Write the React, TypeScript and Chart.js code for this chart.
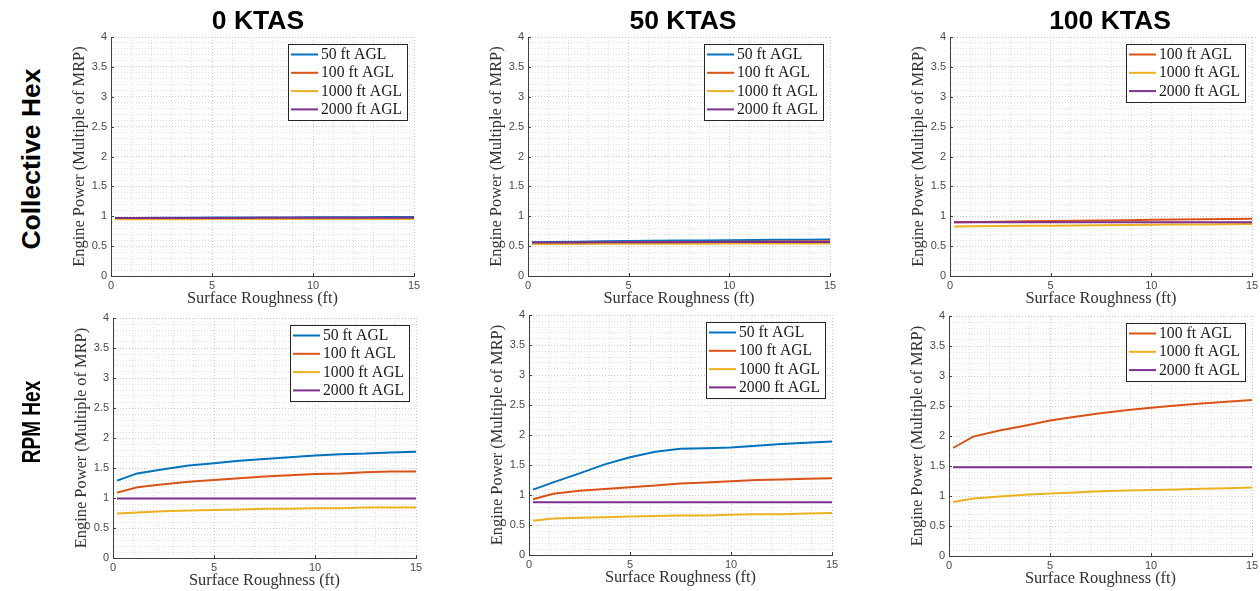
import React, { useEffect, useRef } from "react";
import { Chart, registerables } from "chart.js";
Chart.register(...registerables);

// ---------- data ----------
const roughnessFt = [0.2, 1.2, 2.5, 3.75, 5, 6.25, 7.5, 8.75, 10, 11.25, 12.5, 13.75, 15];
const columnTitles = ["0 KTAS", "50 KTAS", "100 KTAS"];
const rowTitles = ["Collective Hex", "RPM Hex"];
const altitudeLabels = ["50 ft AGL", "100 ft AGL", "1000 ft AGL", "2000 ft AGL"];
const xTitle = "Surface Roughness (ft)";
const yTitle = "Engine Power (Multiple of MRP)";

// Collective Hex, 0 KTAS
const coll0_50 = [0.97, 0.972, 0.974, 0.975, 0.977, 0.978, 0.98, 0.981, 0.983, 0.984, 0.985, 0.986, 0.987];
const coll0_100 = [0.96, 0.961, 0.962, 0.963, 0.964, 0.965, 0.966, 0.967, 0.968, 0.969, 0.97, 0.97, 0.971];
const coll0_1000 = [0.95, 0.95, 0.951, 0.951, 0.952, 0.952, 0.953, 0.953, 0.954, 0.954, 0.955, 0.955, 0.955];
const coll0_2000 = [0.97, 0.97, 0.971, 0.971, 0.972, 0.972, 0.973, 0.973, 0.974, 0.974, 0.975, 0.975, 0.975];
// Collective Hex, 50 KTAS
const coll50_50 = [0.565, 0.57, 0.575, 0.58, 0.585, 0.59, 0.593, 0.596, 0.6, 0.603, 0.605, 0.607, 0.61];
const coll50_100 = [0.55, 0.553, 0.556, 0.559, 0.562, 0.565, 0.567, 0.57, 0.572, 0.574, 0.576, 0.578, 0.58];
const coll50_1000 = [0.535, 0.536, 0.537, 0.538, 0.539, 0.54, 0.541, 0.541, 0.542, 0.543, 0.543, 0.544, 0.545];
const coll50_2000 = [0.56, 0.561, 0.562, 0.563, 0.564, 0.565, 0.566, 0.567, 0.567, 0.568, 0.569, 0.569, 0.57];
// Collective Hex, 100 KTAS
const coll100_100 = [0.9, 0.905, 0.91, 0.915, 0.92, 0.925, 0.93, 0.935, 0.94, 0.945, 0.95, 0.955, 0.96];
const coll100_1000 = [0.83, 0.833, 0.837, 0.84, 0.843, 0.847, 0.85, 0.853, 0.857, 0.86, 0.863, 0.867, 0.87];
const coll100_2000 = [0.9, 0.9, 0.9, 0.9, 0.9, 0.9, 0.9, 0.9, 0.9, 0.9, 0.9, 0.9, 0.9];
// RPM Hex, 0 KTAS
const rpm0_50 = [1.29, 1.41, 1.48, 1.54, 1.58, 1.62, 1.65, 1.68, 1.71, 1.73, 1.74, 1.76, 1.77];
const rpm0_100 = [1.09, 1.18, 1.23, 1.27, 1.3, 1.33, 1.36, 1.38, 1.4, 1.41, 1.43, 1.44, 1.44];
const rpm0_1000 = [0.74, 0.76, 0.78, 0.79, 0.8, 0.81, 0.82, 0.82, 0.83, 0.83, 0.84, 0.84, 0.84];
const rpm0_2000 = [0.99, 0.99, 0.99, 0.99, 0.99, 0.99, 0.99, 0.99, 0.99, 0.99, 0.99, 0.99, 0.99];
// RPM Hex, 50 KTAS
const rpm50_50 = [1.09, 1.21, 1.36, 1.51, 1.63, 1.72, 1.77, 1.78, 1.79, 1.82, 1.85, 1.87, 1.89];
const rpm50_100 = [0.93, 1.02, 1.07, 1.1, 1.13, 1.16, 1.19, 1.21, 1.23, 1.25, 1.26, 1.27, 1.28];
const rpm50_1000 = [0.57, 0.61, 0.62, 0.63, 0.64, 0.65, 0.66, 0.66, 0.67, 0.68, 0.68, 0.69, 0.7];
const rpm50_2000 = [0.88, 0.88, 0.88, 0.88, 0.88, 0.88, 0.88, 0.88, 0.88, 0.88, 0.88, 0.88, 0.88];
// RPM Hex, 100 KTAS
const rpm100_100 = [1.8, 1.99, 2.09, 2.17, 2.26, 2.32, 2.38, 2.43, 2.47, 2.51, 2.54, 2.57, 2.6];
const rpm100_1000 = [0.9, 0.96, 0.99, 1.02, 1.04, 1.06, 1.08, 1.09, 1.1, 1.11, 1.12, 1.13, 1.14];
const rpm100_2000 = [1.48, 1.48, 1.48, 1.48, 1.48, 1.48, 1.48, 1.48, 1.48, 1.48, 1.48, 1.48, 1.48];

// ---------- styling ----------
const seriesColors = ["#0072BD", "#D95319", "#EDB120", "#7E2F8E"];
const Y_AXIS_W = 62;
const X_AXIS_H = 38;
const PAD_TOP = 10;
const PAD_RIGHT = 8;

type Panel = { left: number; top: number; w: number; h: number; series: { idx: number; values: number[] }[] };

const panels: Panel[] = [
  { left: 111, top: 37, w: 303, h: 239, series: [
    { idx: 0, values: coll0_50 }, { idx: 1, values: coll0_100 }, { idx: 2, values: coll0_1000 }, { idx: 3, values: coll0_2000 } ] },
  { left: 528, top: 37, w: 302, h: 239, series: [
    { idx: 0, values: coll50_50 }, { idx: 1, values: coll50_100 }, { idx: 2, values: coll50_1000 }, { idx: 3, values: coll50_2000 } ] },
  { left: 950, top: 37, w: 302, h: 239, series: [
    { idx: 1, values: coll100_100 }, { idx: 2, values: coll100_1000 }, { idx: 3, values: coll100_2000 } ] },
  { left: 113, top: 318, w: 303, h: 240, series: [
    { idx: 0, values: rpm0_50 }, { idx: 1, values: rpm0_100 }, { idx: 2, values: rpm0_1000 }, { idx: 3, values: rpm0_2000 } ] },
  { left: 529, top: 315, w: 303, h: 240, series: [
    { idx: 0, values: rpm50_50 }, { idx: 1, values: rpm50_100 }, { idx: 2, values: rpm50_1000 }, { idx: 3, values: rpm50_2000 } ] },
  { left: 949, top: 316, w: 303, h: 240, series: [
    { idx: 1, values: rpm100_100 }, { idx: 2, values: rpm100_1000 }, { idx: 3, values: rpm100_2000 } ] },
];

const isYMajor = (v: number) => Math.abs(v * 2 - Math.round(v * 2)) < 1e-6;
const isXMajor = (v: number) => Math.abs(v / 5 - Math.round(v / 5)) < 1e-6;

const boxLegend = {
  id: "boxLegend",
  afterDraw(chart: any) {
    const { ctx, chartArea } = chart;
    const ds = chart.data.datasets;
    ctx.save();
    // inward major ticks
    const xs = chart.scales.x, ys = chart.scales.y;
    ctx.strokeStyle = "#404040";
    ctx.lineWidth = 1;
    ctx.setLineDash([]);
    ctx.beginPath();
    xs.ticks.forEach((t: any) => {
      if (!isXMajor(t.value)) return;
      const px = Math.round(xs.getPixelForValue(t.value)) + 0.5;
      ctx.moveTo(px, chartArea.bottom);
      ctx.lineTo(px, chartArea.bottom - 3);
    });
    ys.ticks.forEach((t: any) => {
      if (!isYMajor(t.value)) return;
      const py = Math.round(ys.getPixelForValue(t.value)) + 0.5;
      ctx.moveTo(chartArea.left, py);
      ctx.lineTo(chartArea.left + 3, py);
    });
    ctx.stroke();

    // legend box
    ctx.font = "15.7px 'Liberation Serif'";
    const textW = Math.max(...ds.map((d: any) => ctx.measureText(d.label).width));
    const w = Math.round(3 + 27 + 3 + textW + 5);
    const rowH = 18.3;
    const h = Math.round(ds.length * rowH + 3);
    const x = Math.round(chartArea.right - 7 - w);
    const y = Math.round(chartArea.top + 7);
    ctx.fillStyle = "#ffffff";
    ctx.fillRect(x, y, w, h);
    ctx.strokeStyle = "#262626";
    ctx.strokeRect(x + 0.5, y + 0.5, w, h);
    ds.forEach((d: any, i: number) => {
      const cy = y + 10.5 + i * rowH;
      ctx.strokeStyle = d.borderColor;
      ctx.lineWidth = 2;
      ctx.beginPath();
      ctx.moveTo(x + 3, cy);
      ctx.lineTo(x + 30, cy);
      ctx.stroke();
      ctx.fillStyle = "#1a1a1a";
      ctx.textBaseline = "middle";
      ctx.textAlign = "left";
      ctx.fillText(d.label, x + 33, cy + 0.5);
    });
    ctx.restore();
  },
};

function PanelChart({ p }: { p: Panel }) {
  const ref = useRef<HTMLCanvasElement | null>(null);
  const cw = p.w + Y_AXIS_W + PAD_RIGHT;
  const ch = p.h + PAD_TOP + X_AXIS_H;
  useEffect(() => {
    if (!ref.current) return;
    const n = p.series.length;
    const chart = new Chart(ref.current, {
      type: "line",
      data: {
        datasets: p.series.map((s, i) => ({
          label: altitudeLabels[s.idx],
          data: roughnessFt.map((x, k) => ({ x, y: s.values[k] })),
          borderColor: seriesColors[s.idx],
          backgroundColor: seriesColors[s.idx],
          borderWidth: 2,
          pointRadius: 0,
          tension: 0,
          fill: false,
          order: n - i,
        })),
      },
      options: {
        responsive: false,
        animation: false,
        devicePixelRatio: 1,
        layout: { padding: { top: PAD_TOP, right: PAD_RIGHT, left: 0, bottom: 0 } },
        plugins: { legend: { display: false }, tooltip: { enabled: false }, title: { display: false } },
        scales: {
          x: {
            type: "linear",
            min: 0,
            max: 15,
            ticks: {
              stepSize: 1,
              maxTicksLimit: 100,
              autoSkip: false,
              maxRotation: 0,
              padding: 3,
              color: "#4a4a4a",
              font: { family: "'Liberation Sans'", size: 11 },
              callback: (v: any) => (isXMajor(Number(v)) ? String(Math.round(Number(v))) : ""),
            },
            grid: {
              drawTicks: false,
              lineWidth: 1,
              color: (c: any) => (c.tick && isXMajor(c.tick.value) ? "#cccccc" : "#e0e0e0"),
            },
            border: { display: true, color: "#404040", width: 1, dash: [1, 2] },
            title: {
              display: true,
              text: xTitle,
              color: "#333333",
              font: { family: "'Liberation Serif'", size: 16.4, lineHeight: 1 },
              padding: { top: 0, bottom: 7 },
            },
            afterFit: (s: any) => {
              s.height = X_AXIS_H;
              s.paddingLeft = 0;
              s.paddingRight = 0;
            },
          },
          y: {
            type: "linear",
            min: 0,
            max: 4,
            ticks: {
              stepSize: 0.1,
              maxTicksLimit: 100,
              autoSkip: false,
              padding: 4,
              color: "#4a4a4a",
              font: { family: "'Liberation Sans'", size: 11 },
              callback: (v: any) => (isYMajor(Number(v)) ? String(Math.round(Number(v) * 2) / 2) : ""),
            },
            grid: {
              drawTicks: false,
              lineWidth: 1,
              color: (c: any) => (c.tick && isYMajor(c.tick.value) ? "#cccccc" : "#e0e0e0"),
            },
            border: { display: true, color: "#404040", width: 1, dash: [1, 2] },
            title: {
              display: true,
              text: yTitle,
              color: "#333333",
              font: { family: "'Liberation Serif'", size: 16.4, lineHeight: 1 },
              padding: { top: 23, bottom: 0 },
            },
            afterFit: (s: any) => {
              s.width = Y_AXIS_W;
              s.paddingTop = 0;
              s.paddingBottom = 0;
            },
          },
        },
      },
      plugins: [boxLegend],
    } as any);
    return () => chart.destroy();
  }, []);
  return (
    <canvas
      ref={ref}
      width={cw}
      height={ch}
      style={{ position: "absolute", left: p.left - Y_AXIS_W, top: p.top - PAD_TOP, width: cw, height: ch }}
    />
  );
}

const colCenters = [258, 683, 1110];
const rowCenters = [159, 422];
const rowSqueeze = [1, 0.72];

export default function App() {
  return (
    <div style={{ position: "absolute", left: 0, top: 0, width: 1260, height: 591, overflow: "hidden", background: "#fff" }}>
      {panels.map((p, i) => (
        <PanelChart key={i} p={p} />
      ))}
      {columnTitles.map((t, i) => (
        <div
          key={t}
          style={{
            position: "absolute",
            left: colCenters[i],
            top: 20,
            transform: "translate(-50%, -50%)",
            font: "bold 26.5px 'Liberation Sans', Arial, sans-serif",
            color: "#000",
            whiteSpace: "nowrap",
          }}
        >
          {t}
        </div>
      ))}
      {rowTitles.map((t, i) => (
        <div
          key={t}
          style={{
            position: "absolute",
            left: 31,
            top: rowCenters[i],
            transform: `translate(-50%, -50%) rotate(-90deg) scaleX(${rowSqueeze[i]})`,
            font: "bold 26.5px 'Liberation Sans', Arial, sans-serif",
            color: "#000",
            whiteSpace: "nowrap",
          }}
        >
          {t}
        </div>
      ))}
    </div>
  );
}
